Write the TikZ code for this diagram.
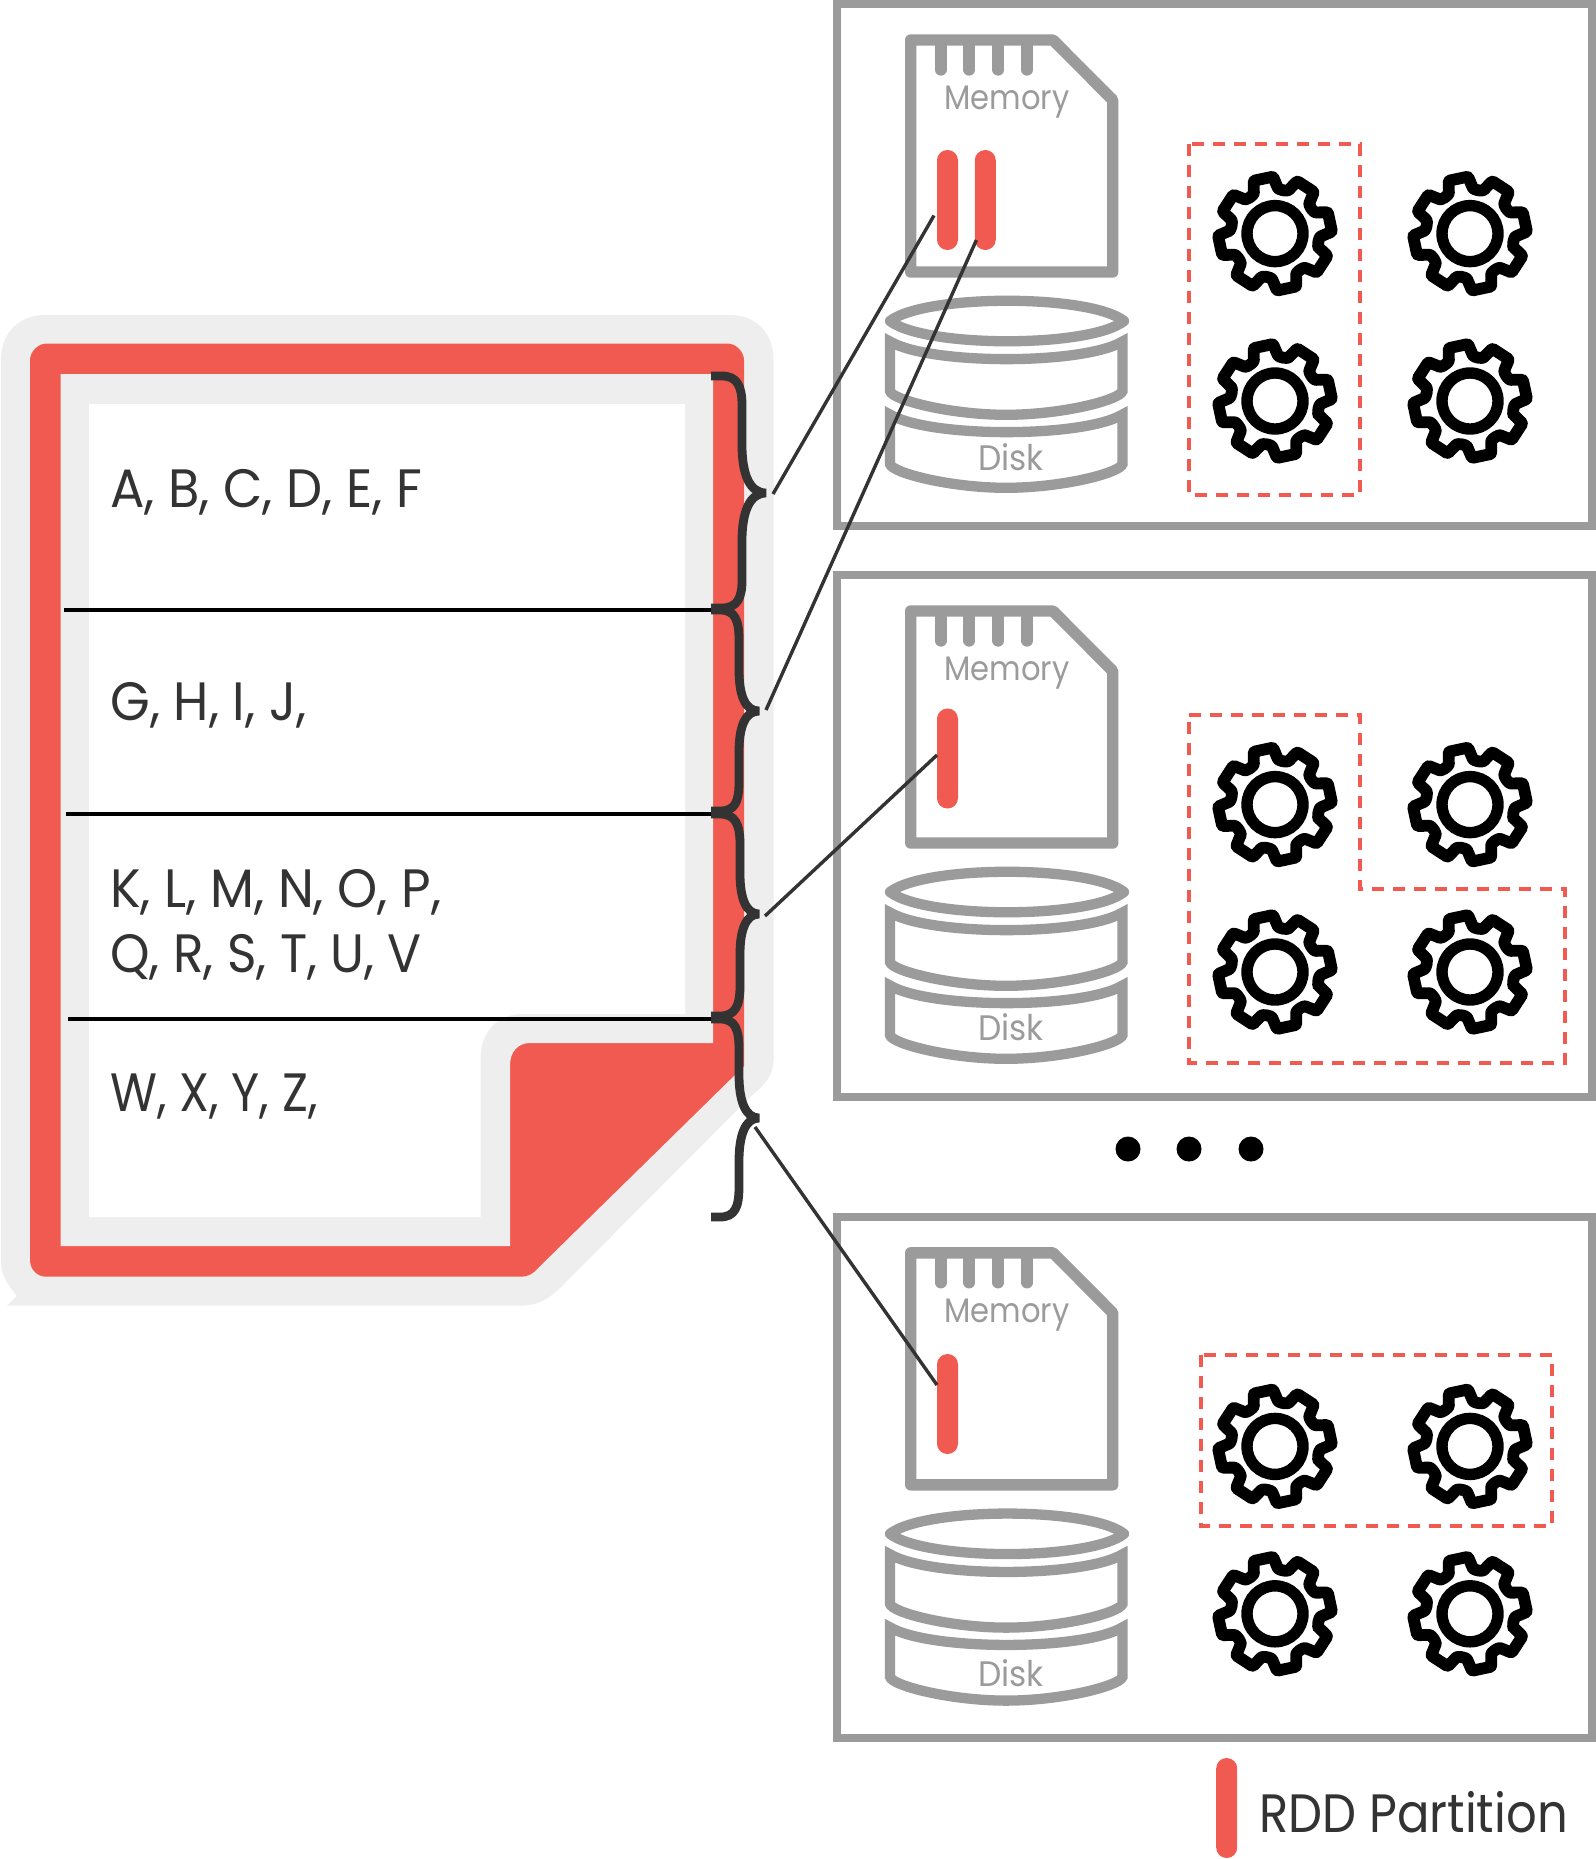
\documentclass[tikz,border=0pt]{standalone}
\usepackage{fontspec}
\newfontfamily\docfont[FakeStretch=0.945]{Poppins}
\newfontfamily\docfontb[FakeStretch=0.93]{Poppins}
\newfontfamily\docfontc[FakeStretch=0.89]{Poppins}
\newfontfamily\cardfont[FakeStretch=0.9]{Poppins}
\newfontfamily\diskfont[FakeStretch=0.93]{Poppins}
\definecolor{cardgrey}{HTML}{9B9B9B}
\definecolor{redfill}{HTML}{F15A50}
\definecolor{halogrey}{HTML}{EEEEEE}
\definecolor{inkdark}{HTML}{333333}
\tikzset{
  boxframe/.style={draw=cardgrey,line width=4pt},
  cardline/.style={draw=cardgrey,line width=5.7pt,line join=round},
  notch/.style={draw=cardgrey,line width=5.85pt,line cap=round},
  diskline/.style={draw=cardgrey,line width=5.15pt,line join=miter,miter limit=10},
  barnode/.style={rectangle,fill=redfill,rounded corners=5.2pt,minimum width=10.5pt,minimum height=50pt,inner sep=0pt},
  dashbox/.style={draw=redfill,line width=2pt,dash pattern=on 6pt off 4.5pt},
  divider/.style={draw=black,line width=2pt},
  bracepath/.style={draw=inkdark,line width=4.4pt,line join=bevel},
  link/.style={draw=inkdark,line width=1.7pt},
  cardtext/.style={text=cardgrey,font=\cardfont\fontsize{17}{20}\selectfont,inner sep=0pt,anchor=base},
  disktext/.style={text=cardgrey,font=\diskfont\fontsize{17.7}{20}\selectfont,inner sep=0pt,anchor=base},
  doctext/.style={text=inkdark,font=\docfont\fontsize{27}{32}\selectfont,inner sep=0pt,anchor=base west},
  doctextb/.style={doctext,font=\docfontb\fontsize{27}{32}\selectfont},
  doctextc/.style={doctext,font=\docfontc\fontsize{27}{32}\selectfont},
  dotnode/.style={circle,fill=black,minimum size=12.5pt,inner sep=0pt},
  gearicon/.pic={
    \draw[line width=5.9pt,line join=round,rounded corners=0.5pt]
      (16:45)
      \foreach \a in {33,78,123,168,213,258,303,348} {
        -- ({\a-16}:45) -- ({\a-10}:57) -- ({\a+10}:57) -- ({\a+16}:45) -- ({\a+22.5}:44)
      } -- cycle;
    \draw[line width=5.7pt] (0,0) circle[radius=28];
  },
  serverunit/.pic={
    \draw[boxframe] (837,4) rectangle (1592,525.5);
    \draw[cardline] (910.7,40) -- (1053,40) -- (1112.7,100) -- (1112.7,272) -- (910.7,272) -- cycle;
    \foreach \nx in {940.7,969.3,998.3,1027} \draw[notch] (\nx,46) -- (\nx,69.8);
    \node[cardtext] (memlabel) at (1007,109.5) {Memory};
    \draw[diskline,line join=round] (890,321) .. controls (925,294) and (1090,294) .. (1124,321) .. controls (1090,348) and (925,348) .. cycle;
    \foreach \dy in {0,73} {
      \draw[diskline,yshift=-\dy*0.5pt] (890,341.5) .. controls (930,365) and (1083,365) .. (1122.5,341.5) -- (1122.5,391) .. controls (1120,400) and (1062,414.8) .. (1006,414.8) .. controls (951,414.8) and (892,400) .. (890,391) -- cycle;
    }
    \pic at (1275,233.6) {gearicon};
    \pic at (1470,233.6) {gearicon};
    \pic at (1275,401) {gearicon};
    \pic at (1470,401) {gearicon};
  }
}
\begin{document}
\begin{tikzpicture}[x=0.5pt,y=-0.5pt]
\useasboundingbox (0,0) rectangle (1596,1859);
\fill[white] (0,0) rectangle (1596,1859);
% document
\fill[halogrey] (1,360) .. controls (1,332) and (20,315) .. (45,315) -- (730,315) .. controls (755,315) and (773.5,332) .. (773.5,360) -- (773.5,1060) .. controls (773.5,1075) and (765,1085) .. (750,1097) -- (561,1287) .. controls (550,1298) and (538,1305.7) .. (520,1305.7) -- (7,1305.7) -- (17,1296) .. controls (8,1285) and (1,1275) .. (1,1262) -- cycle;
\fill[redfill] (30,360) .. controls (30,352) and (38,343.6) .. (46,343.6) -- (728,343.6) .. controls (736,343.6) and (744,352) .. (744,360) -- (744,1066) -- (538,1268) .. controls (533,1274) and (528,1276.7) .. (520,1276.7) -- (46,1276.7) .. controls (38,1276.7) and (30,1270) .. (30,1260) -- cycle;
\fill[halogrey] (60.7,374) -- (713,374) -- (713,1043) -- (530,1043) .. controls (518,1043) and (510,1052) .. (510,1065) -- (510,1246) -- (60.7,1246) -- cycle;
\fill[white] (89,404) -- (685,404) -- (685,1014) -- (522,1014) .. controls (497,1014) and (480.6,1032) .. (480.6,1058) -- (480.6,1217) -- (89,1217) -- cycle;
\node[doctext] (t1) at (110,507.4) {A, B, C, D, E, F};
\node[doctext] (t2) at (110,720.6) {G, H, I, J,};
\node[doctext] (t3) at (110,907.5) {K, L, M, N, O, P,};
\node[doctextb] (t4) at (110,972.5) {Q, R, S, T, U, V};
\node[doctextc] (t5) at (110,1111.5) {W, X, Y, Z,};
% dividers
\coordinate (d1a) at (64,610); \coordinate (d1b) at (712,610);
\coordinate (d2a) at (66,814.3); \coordinate (d2b) at (713,814.3);
\coordinate (d3a) at (68,1018.7); \coordinate (d3b) at (713,1018.7);
\draw[divider] (d1a) -- (d1b);
\draw[divider] (d2a) -- (d2b);
\draw[divider] (d3a) -- (d3b);
% braces
\draw[bracepath] (711,376) -- (722,376) .. controls (737,376) and (742,386) .. (742,405) -- (742,445) .. controls (742,475) and (750,493) .. (766,493) .. controls (750,493) and (742,511) .. (742,541) -- (742,581) .. controls (742,598) and (737,608) .. (722,608) -- (711,608);
\draw[bracepath] (711,610) -- (720,610) .. controls (735,610) and (739,620) .. (739,640) -- (739,670) .. controls (739,695) and (745,711) .. (759,711) .. controls (745,711) and (739,727) .. (739,752) -- (739,782) .. controls (739,802) and (735,811) .. (720,811) -- (711,811);
\draw[bracepath] (711,814) -- (720,814) .. controls (735,814) and (740,824) .. (740,844) -- (740,874) .. controls (740,898) and (746,914) .. (759,914) .. controls (746,914) and (740,930) .. (740,954) -- (740,986) .. controls (740,1006) and (735,1016) .. (720,1016) -- (711,1016);
\draw[bracepath] (711,1019) -- (720,1019) .. controls (735,1019) and (739,1029) .. (739,1049) -- (739,1075) .. controls (739,1100) and (745,1118) .. (759,1118) .. controls (745,1118) and (739,1136) .. (739,1161) -- (739,1187) .. controls (739,1207) and (735,1217) .. (720,1217) -- (711,1217);
% servers
\begin{scope}
\pic at (0,0) {serverunit};
\end{scope}
\begin{scope}[yshift=-285.5pt]
\pic at (0,0) {serverunit};
\end{scope}
\begin{scope}[yshift=-606.4pt]
\pic at (0,0) {serverunit};
\end{scope}
\node[disktext] (disk1) at (1011,470) {Disk};
\node[disktext] (disk2) at (1011,1040.5) {Disk};
\node[disktext] (disk3) at (1011,1686) {Disk};
% partitions
\node[barnode] (p1) at (947.5,200) {};
\node[barnode] (p2) at (985.3,200) {};
\node[barnode] (p3) at (947.5,758.5) {};
\node[barnode] (p4) at (947.5,1404) {};
\node[barnode] (legendbar) at (1226.7,1808) {};
% dashed groups
\draw[dashbox] (1189,144) rectangle (1360,495);
\draw[dashbox] (1189,715) -- (1360,715) -- (1360,889) -- (1565,889) -- (1565,1062.5) -- (1189,1062.5) -- cycle;
\draw[dashbox] (1201,1355) rectangle (1552,1526);
% dots
\node[dotnode] (dota) at (1128,1149) {};
\node[dotnode] (dotb) at (1189,1149) {};
\node[dotnode] (dotc) at (1251,1149) {};
\node[doctextc] (legend) at (1259,1832.7) {RDD Partition};
% connectors
\coordinate (b1) at (773,494); \coordinate (e1) at (934,215.5);
\coordinate (b2) at (766,710); \coordinate (e2) at (976.4,240);
\coordinate (b3) at (765,916); \coordinate (e3) at (937,755);
\coordinate (b4) at (755,1127); \coordinate (e4) at (937,1385);
\draw[link] (b1) -- (e1);
\draw[link] (b2) -- (e2);
\draw[link] (b3) -- (e3);
\draw[link] (b4) -- (e4);
\end{tikzpicture}
\end{document}
